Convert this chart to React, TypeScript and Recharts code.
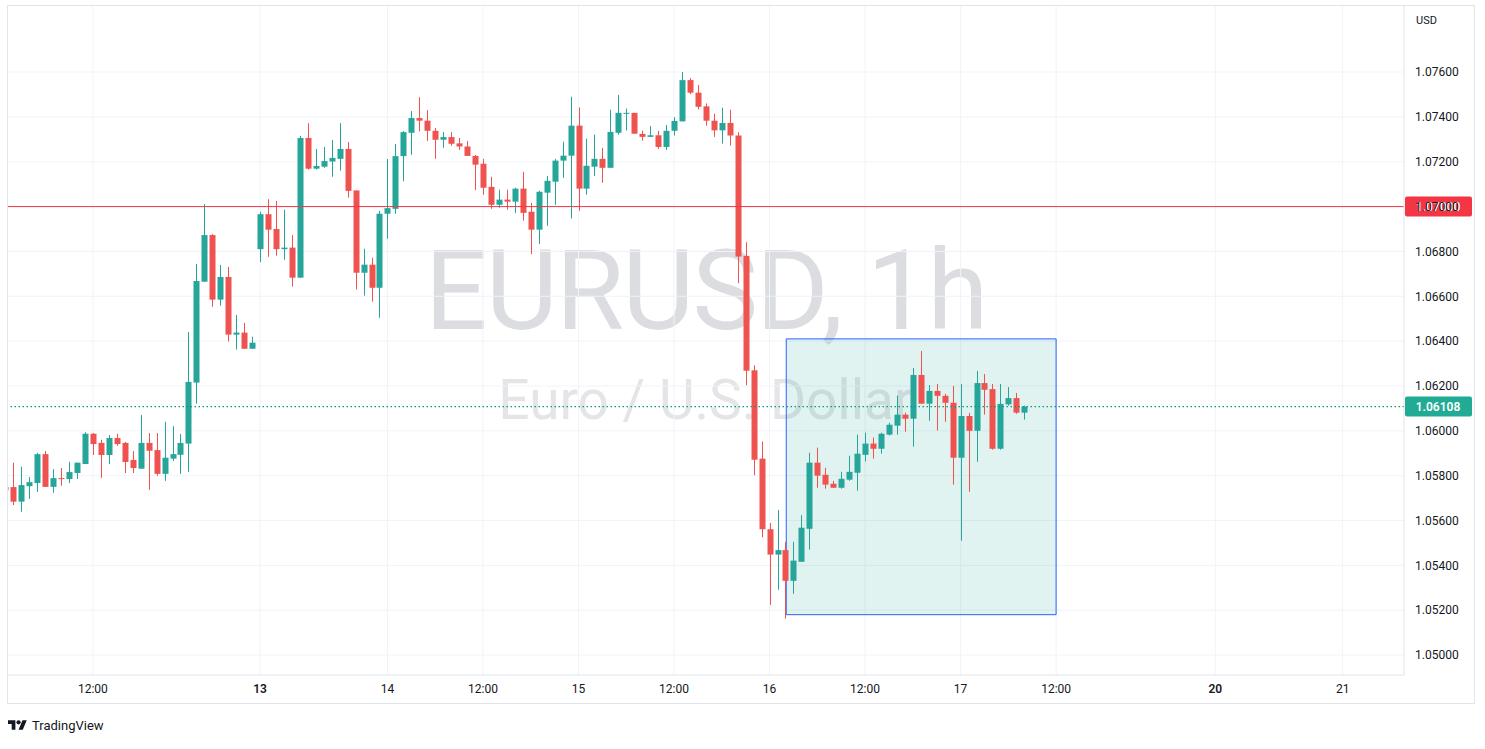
import React from "react";
import {
  ComposedChart,
  Bar,
  XAxis,
  YAxis,
  CartesianGrid,
  ReferenceLine,
  ReferenceArea,
} from "recharts";

// EURUSD 1h candles (bar index = position on the time axis)
const opens = [
  1.05735, 1.05749, 1.05684, 1.05753, 1.05767, 1.05896, 1.0575, 1.05789,
  1.05785, 1.05812, 1.05852, 1.05987, 1.05946, 1.05892, 1.05968, 1.05946,
  1.0587, 1.05831, 1.05946, 1.05914, 1.05808, 1.05876, 1.05893, 1.05943,
  1.06215, 1.06665, 1.06873, 1.06585, 1.06686, 1.06429, 1.06438, 1.06366,
  1.0681, 1.06966, 1.069, 1.0681, 1.06817, 1.06683, 1.07306, 1.07169,
  1.07178, 1.07201, 1.07213, 1.07257, 1.07072, 1.06705, 1.06741, 1.06638,
  1.06968, 1.0699, 1.07225, 1.07329, 1.07395, 1.07383, 1.07338, 1.07298,
  1.0731, 1.07282, 1.07268, 1.07226, 1.07191, 1.07088, 1.07008, 1.07031,
  1.07022, 1.0708, 1.06977, 1.06897, 1.07062, 1.07111, 1.07205, 1.07227,
  1.07361, 1.0708, 1.07178, 1.07213, 1.07173, 1.07329, 1.07416, 1.07418,
  1.07324, 1.07311, 1.07318, 1.07266, 1.07338, 1.0738, 1.07564, 1.07508,
  1.07447, 1.07383, 1.0734, 1.07373, 1.07317, 1.0678, 1.0627, 1.05876,
  1.05561, 1.05448, 1.05468, 1.05331, 1.05416, 1.05563, 1.05858, 1.05804,
  1.05764, 1.05746, 1.05782, 1.05813, 1.05893, 1.05943, 1.0592, 1.05983,
  1.06023, 1.06072, 1.06054, 1.06249, 1.06121, 1.06178, 1.06156, 1.06125,
  1.0588, 1.06066, 1.06, 1.06213, 1.06186, 1.0592, 1.06118, 1.06146,
  1.06081,
];

const highs = [
  1.0577, 1.05858, 1.0584, 1.05794, 1.05902, 1.0591, 1.05829, 1.05834,
  1.05862, 1.05858, 1.05994, 1.0599, 1.0596, 1.05981, 1.05987, 1.0595,
  1.0591, 1.0607, 1.0599, 1.0599, 1.0604, 1.06021, 1.05986, 1.0644,
  1.06744, 1.07011, 1.06877, 1.0674, 1.06731, 1.06516, 1.06481, 1.0642,
  1.06977, 1.07033, 1.07025, 1.06986, 1.06873, 1.07315, 1.07372, 1.07257,
  1.07266, 1.07297, 1.07372, 1.07288, 1.07072, 1.06812, 1.06772, 1.06981,
  1.07212, 1.07279, 1.07337, 1.07426, 1.07488, 1.0743, 1.0735, 1.07332,
  1.07332, 1.07306, 1.07293, 1.0723, 1.07213, 1.07133, 1.07075, 1.07075,
  1.07084, 1.07155, 1.07017, 1.07071, 1.07137, 1.07213, 1.07289, 1.0749,
  1.07442, 1.07303, 1.07321, 1.07262, 1.07432, 1.07498, 1.07437, 1.07418,
  1.07338, 1.07359, 1.07338, 1.07364, 1.07399, 1.076, 1.07573, 1.07542,
  1.0746, 1.07414, 1.07441, 1.07432, 1.07332, 1.06841, 1.06292, 1.05952,
  1.05589, 1.05647, 1.05505, 1.05505, 1.05624, 1.05902, 1.05925, 1.05835,
  1.05777, 1.05817, 1.05889, 1.05983, 1.05992, 1.0597, 1.05992, 1.06036,
  1.06157, 1.06081, 1.0628, 1.06356, 1.06204, 1.06209, 1.06165, 1.062,
  1.06209, 1.0608, 1.06267, 1.06253, 1.06209, 1.06209, 1.06195, 1.06169,
  1.06112,
];

const lows = [
  1.0571, 1.05669, 1.05639, 1.05696, 1.05727, 1.0575, 1.05724, 1.05755,
  1.05767, 1.05785, 1.05852, 1.05892, 1.0579, 1.05852, 1.05933, 1.05812,
  1.05812, 1.05831, 1.05737, 1.058, 1.05777, 1.05866, 1.05808, 1.05817,
  1.06121, 1.06665, 1.06553, 1.06558, 1.06398, 1.06362, 1.06366, 1.06366,
  1.06752, 1.06776, 1.06781, 1.06763, 1.06643, 1.06683, 1.07165, 1.07165,
  1.07173, 1.07133, 1.0716, 1.0704, 1.0663, 1.06603, 1.06576, 1.06504,
  1.06857, 1.06968, 1.07113, 1.07231, 1.07335, 1.07293, 1.07213, 1.07262,
  1.07271, 1.07253, 1.07226, 1.07074, 1.07053, 1.0699, 1.06995, 1.06986,
  1.06972, 1.06937, 1.06788, 1.06833, 1.06914, 1.07008, 1.07128, 1.06947,
  1.06981, 1.07053, 1.07137, 1.07106, 1.07173, 1.07321, 1.07339, 1.07325,
  1.07294, 1.07311, 1.07257, 1.07253, 1.07317, 1.0738, 1.07501, 1.07433,
  1.07361, 1.07311, 1.07281, 1.07272, 1.06658, 1.06203, 1.05801, 1.05525,
  1.05224, 1.05291, 1.05162, 1.05273, 1.05416, 1.0547, 1.05746, 1.05742,
  1.05746, 1.05742, 1.05777, 1.05733, 1.05863, 1.05876, 1.05898, 1.05979,
  1.05983, 1.05996, 1.05929, 1.06121, 1.06045, 1.06001, 1.0604, 1.0576,
  1.0551, 1.05728, 1.05862, 1.06072, 1.05916, 1.05916, 1.06112, 1.06076,
  1.0605,
];

const closes = [
  1.0575, 1.05684, 1.05758, 1.05771, 1.05896, 1.0575, 1.05789, 1.05786,
  1.05816, 1.05858, 1.05987, 1.05941, 1.05892, 1.05968, 1.05941, 1.05861,
  1.05834, 1.05946, 1.05911, 1.05808, 1.0588, 1.05896, 1.05946, 1.06218,
  1.06668, 1.06873, 1.06585, 1.06686, 1.06429, 1.06438, 1.06366, 1.06393,
  1.06966, 1.06897, 1.0681, 1.06817, 1.06683, 1.07306, 1.07169, 1.07181,
  1.07203, 1.07217, 1.07257, 1.0707, 1.06705, 1.06741, 1.06638, 1.06968,
  1.06993, 1.07225, 1.07332, 1.07395, 1.07383, 1.07338, 1.07298, 1.0731,
  1.0728, 1.07268, 1.07226, 1.07187, 1.07084, 1.07008, 1.07031, 1.07022,
  1.0708, 1.06972, 1.06897, 1.07066, 1.07115, 1.07205, 1.07227, 1.07361,
  1.0708, 1.07182, 1.07213, 1.07173, 1.07333, 1.07418, 1.07418, 1.07325,
  1.07311, 1.07318, 1.07266, 1.07338, 1.07382, 1.07564, 1.07508, 1.07445,
  1.07383, 1.0734, 1.07373, 1.07317, 1.06777, 1.06268, 1.05871, 1.05561,
  1.05448, 1.05468, 1.05331, 1.05421, 1.05568, 1.05858, 1.058, 1.0576,
  1.05746, 1.05786, 1.05817, 1.05898, 1.05943, 1.0592, 1.05987, 1.06027,
  1.06072, 1.06054, 1.06249, 1.06121, 1.06178, 1.06156, 1.06125, 1.0588,
  1.06066, 1.06, 1.06213, 1.06183, 1.0592, 1.0612, 1.06146, 1.06081,
  1.06108,
];

// time axis labels (bar index -> label)
const timeTicks = [11, 32, 48, 60, 72, 84, 96, 108, 120, 132, 152, 168];
const timeLabels = ["12:00", "13", "14", "12:00", "15", "12:00", "16", "12:00", "17", "12:00", "20", "21"];
const boldLabels = ["13", "20"];

const priceTicks = [
  1.05, 1.052, 1.054, 1.056, 1.058, 1.06, 1.062, 1.064, 1.066, 1.068, 1.07,
  1.072, 1.074, 1.076,
];

const levelPrice = 1.07;
const lastPrice = 1.06108;
// highlighted box: from bar ~98 to bar 132, 1.0518 .. 1.0641
const boxBars = [98.1, 132];
const boxPrices = [1.0518, 1.0641];

const UP = "#26a69a";
const DOWN = "#ef5350";
const FONT = "Roboto, 'Noto Sans', sans-serif";

const data = opens.map((o, i) => ({
  i,
  o,
  h: highs[i],
  l: lows[i],
  c: closes[i],
  range: [lows[i], highs[i]],
}));

const Candle = (props: any) => {
  const { x, y, width, height, payload } = props;
  if (!payload || x == null) return null;
  const { o, h, l, c } = payload;
  const top = Math.min(y, y + height);
  const hh = Math.abs(height);
  const k = h - l > 0 ? hh / (h - l) : 0;
  const py = (p: number) => top + (h - p) * k;
  const color = c >= o ? UP : DOWN;
  const cx = Math.round(x + width / 2) + 0.5;
  const b1 = py(Math.max(o, c));
  const b2 = py(Math.min(o, c));
  return (
    <g>
      <line x1={cx} x2={cx} y1={top} y2={top + hh} stroke={color} strokeWidth={1} />
      <rect x={cx - 3} y={b1} width={6} height={Math.max(1, b2 - b1)} fill={color} />
    </g>
  );
};

const PriceTag = (props: any) => {
  const { viewBox, text, bg } = props;
  if (!viewBox) return null;
  const x = viewBox.x + viewBox.width + 1;
  const y = viewBox.y;
  return (
    <g>
      <rect x={x} y={y - 10} width={67} height={20} rx={2} fill={bg} />
      <text
        x={x + 33}
        y={y + 4.5}
        textAnchor="middle"
        fill="#fff"
        fontSize={12}
        fontWeight={600}
        fontFamily={FONT}
      >
        {text}
      </text>
    </g>
  );
};

const TimeTick = (props: any) => {
  const { x, y, payload } = props;
  const idx = timeTicks.indexOf(payload.value);
  const label = idx >= 0 ? timeLabels[idx] : "";
  return (
    <text
      x={x}
      y={y + 10}
      textAnchor="middle"
      fill="#131722"
      fontSize={12}
      fontWeight={boldLabels.includes(label) ? 600 : 400}
      fontFamily={FONT}
    >
      {label}
    </text>
  );
};

export default function App() {
  return (
    <div
      style={{
        position: "relative",
        width: 1485,
        height: 749,
        background: "#fff",
        overflow: "hidden",
        fontFamily: FONT,
      }}
    >
      <style>{`body{margin:0}`}</style>
      {/* watermark */}
      <div
        style={{
          position: "absolute",
          left: 7,
          width: 1397,
          top: 226,
          textAlign: "center",
          fontSize: 111,
          lineHeight: "130px",
          color: "#dcdde0",
          letterSpacing: -2,
        }}
      >
        EURUSD, 1h
      </div>
      <div
        style={{
          position: "absolute",
          left: 7,
          width: 1397,
          top: 366,
          textAlign: "center",
          fontSize: 55,
          lineHeight: "68px",
          color: "#e4e5e7",
        }}
      >
        Euro / U.S. Dollar
      </div>
      <div style={{ position: "absolute", left: 0, top: 0 }}>
        <ComposedChart
          width={1485}
          height={703}
          data={data}
          margin={{ top: 5, right: 11, bottom: 0, left: 7 }}
        >
          <CartesianGrid stroke="#f0f3fa" horizontalValues={priceTicks} verticalValues={timeTicks} />
          <XAxis
            dataKey="i"
            type="number"
            domain={[0.21, 175.7]}
            allowDataOverflow
            ticks={timeTicks}
            interval={0}
            height={28}
            tickLine={false}
            axisLine={{ stroke: "#e0e3eb" }}
            tick={<TimeTick />}
          />
          <YAxis
            orientation="right"
            type="number"
            domain={[1.04911, 1.07899]}
            allowDataOverflow
            ticks={priceTicks}
            interval={0}
            width={70}
            tickLine={false}
            tickSize={0}
            tickMargin={11}
            axisLine={{ stroke: "#e0e3eb" }}
            tick={{ fill: "#131722", fontSize: 12, fontFamily: FONT }}
            tickFormatter={(v: number) => v.toFixed(5)}
          />
          <ReferenceArea
            x1={boxBars[0]}
            x2={boxBars[1]}
            y1={boxPrices[0]}
            y2={boxPrices[1]}
            fill="#089981"
            fillOpacity={0.12}
            stroke="#2962ff"
            strokeWidth={1}
            strokeOpacity={1}
          />
          <Bar
            dataKey="range"
            barSize={6}
            shape={<Candle />}
            isAnimationActive={false}
          />
          <ReferenceLine
            y={levelPrice}
            stroke="#f23645"
            strokeWidth={1}
            label={<PriceTag text={levelPrice.toFixed(5)} bg="#f23645" />}
          />
          <ReferenceLine
            y={lastPrice}
            stroke="#089981"
            strokeWidth={1.3}
            strokeDasharray="1.5 2.5"
            label={<PriceTag text={lastPrice.toFixed(5)} bg="#22ab94" />}
          />
        </ComposedChart>
      </div>
      {/* frame */}
      <div
        style={{
          position: "absolute",
          left: 7,
          top: 5,
          width: 1466,
          height: 697,
          border: "1px solid #e0e3eb",
          pointerEvents: "none",
        }}
      />
      <div
        style={{
          position: "absolute",
          left: 1416,
          top: 14,
          fontSize: 11,
          color: "#131722",
        }}
      >
        USD
      </div>
      {/* logo */}
      <div
        style={{
          position: "absolute",
          left: 8,
          top: 718,
          display: "flex",
          alignItems: "center",
          gap: 5,
          fontSize: 13,
          color: "#131722",
        }}
      >
        <svg width="19" height="15" viewBox="0 0 36 28">
          <path d="M14 22H7V11H0V4h14v18zM28 22h-8l7.5-18h8L28 22z" fill="#131722" />
          <circle cx="20" cy="8" r="4" fill="#131722" />
        </svg>
        <span>TradingView</span>
      </div>
    </div>
  );
}
